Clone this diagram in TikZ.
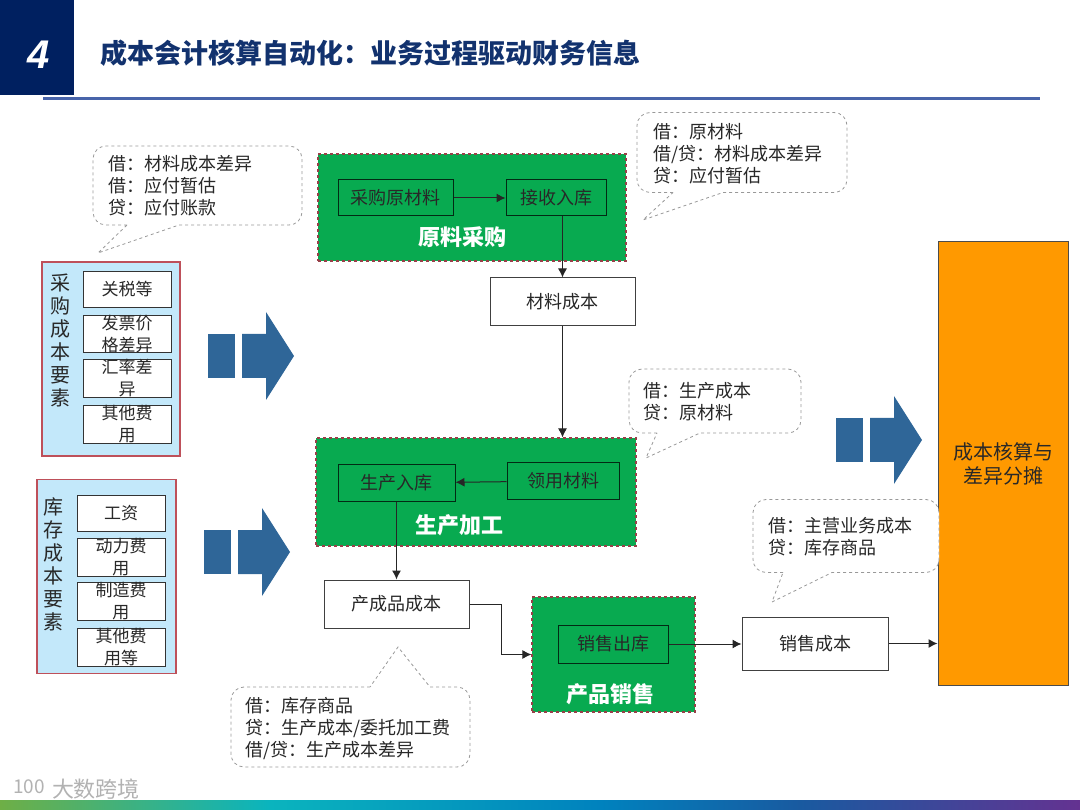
\documentclass[tikz,border=0pt]{standalone}
\usepackage{fontspec}
\setmainfont{Noto Sans CJK SC}
\newfontfamily\numfont[ItalicFeatures={FakeSlant=0.12}]{Liberation Sans}
\usepackage{tikz}
\usetikzlibrary{arrows.meta,positioning,fit,calc}

\definecolor{navy}{RGB}{0,32,96}
\definecolor{titleblue}{RGB}{18,50,110}
\definecolor{rulecol}{RGB}{72,100,170}
\definecolor{stagegreen}{RGB}{8,170,80}
\definecolor{panelblue}{RGB}{195,232,250}
\definecolor{panelred}{RGB}{190,80,90}
\definecolor{bigblue}{RGB}{47,102,152}
\definecolor{sumorange}{RGB}{255,153,0}
\definecolor{inktext}{RGB}{40,40,40}
\definecolor{barone}{RGB}{110,175,70}
\definecolor{bartwo}{RGB}{10,180,190}
\definecolor{barthree}{RGB}{0,130,190}
\definecolor{barfour}{RGB}{25,90,160}
\definecolor{barfive}{RGB}{100,50,145}

\begin{document}
\begin{tikzpicture}[
        x=1pt, y=-1pt,
        every node/.style={text=inktext},
        costbox/.style={draw=black!75, fill=white, line width=1pt, align=center,
          font=\fontsize{18}{21}\selectfont, inner sep=0pt, minimum width=145pt, minimum height=48pt},
        stagebox/.style={draw=panelred!80!black, fill=stagegreen, dashed, line width=1.2pt, inner sep=0pt},
        stepbox/.style={draw=black!75!stagegreen, line width=1pt, align=center,
          font=\fontsize{18}{21}\selectfont, inner sep=0pt, minimum height=36pt},
        stagename/.style={text=white, font=\fontsize{22}{24}\selectfont\bfseries},
        panelbox/.style={draw=panelred, fill=panelblue, line width=1.3pt, inner sep=0pt,
          minimum width=138pt, minimum height=194pt},
        panelname/.style={align=center, font=\fontsize{20}{23}\selectfont},
        itembox/.style={draw=black!80, fill=white, line width=1pt, align=center, inner sep=0pt,
          font=\fontsize{17}{22}\selectfont, minimum width=88pt, minimum height=36pt},
        notebody/.style={draw=black!40, dashed, line width=.8pt, fill=white},
        notetext/.style={anchor=west, align=left, inner sep=0pt, font=\fontsize{18}{22}\selectfont},
        bigarrow/.style={fill=bigblue},
        arr/.style={-{Latex[length=9pt,width=9pt]}, line width=1pt, draw=black!85}
      ]
        \useasboundingbox (0,0) rectangle (1080,810);

        % header
        \fill[navy] (0,0) rectangle (74,95);
        \node[text=white, font=\numfont\fontsize{40}{40}\selectfont\bfseries\itshape] (num) at (39,55) {4};
        \node[anchor=west, inner sep=0pt, text=titleblue, font=\fontsize{27}{30}\selectfont\bfseries] (title) at (100,53)
          {成本会计核算自动化：业务过程驱动财务信息};
        \fill[rulecol] (43,97) rectangle (1040,100);

        % footer
        \shade[left color=barone, right color=bartwo] (0,800) rectangle (270,810);
        \shade[left color=bartwo, right color=barthree] (270,800) rectangle (600,810);
        \shade[left color=barthree, right color=barfour] (600,800) rectangle (800,810);
        \shade[left color=barfour, right color=barfive] (800,800) rectangle (1080,810);
        \node[text=black!30, font=\fontsize{22}{24}\selectfont] (mark) at (96,789) {大数跨境};
        \node[text=black!30, font=\fontsize{19}{20}\selectfont] (logo) at (29,787) {100};

        % left panels
        \node[panelbox] (buy) at (111,359) {};
        \node[panelname] (buyname) at (60,340.5) {采\\购\\成\\本\\要\\素};
        \node[itembox] (tax) at (127,289.5) {关税等};
        \node[itembox] (price) at (127,334) {发票价\\格差异};
        \node[itembox] (rate) at (127,378.5) {汇率差\\异};
        \node[itembox] (other) at (127,424.5) {其他费\\用};

        \node[panelbox, minimum width=139pt] (stock) at (106.5,576.5) {};
        \node[panelname] (stockname) at (53,564.5) {库\\存\\成\\本\\要\\素};
        \node[itembox] (wage) at (121,513) {工资};
        \node[itembox] (power) at (121,557.5) {动力费\\用};
        \node[itembox] (make) at (121,601.5) {制造费\\用};
        \node[itembox] (rest) at (121,647.5) {其他费\\用等};

        % big arrows
        \foreach \ax/\ay in {208/356, 204/552, 836/440} {
          \begin{scope}[shift={(\ax,\ay)}]
            \fill[bigarrow] (0,-22) rectangle (27,22);
            \fill[bigarrow] (34,-22) -- (58,-22) -- (58,-44) -- (86,0) -- (58,44) -- (58,22) -- (34,22) -- cycle;
          \end{scope}
        }

        % stages
        \node[stagebox, minimum width=308pt, minimum height=107pt] (purchase) at (472,207.5) {};
        \node[stepbox, minimum width=115pt] (rawbuy) at (395.5,198) {采购原材料};
        \node[stepbox, minimum width=100pt] (receive) at (556,198) {接收入库};
        \node[stagename] (purchasename) at (462,237) {原料采购};

        \node[stagebox, minimum width=320pt, minimum height=108pt] (making) at (476,492) {};
        \node[stepbox, minimum width=117pt] (finish) at (396.5,483) {生产入库};
        \node[stepbox, minimum width=112pt] (draw) at (563,481) {领用材料};
        \node[stagename] (makingname) at (459,525) {生产加工};

        \node[stagebox, minimum width=163pt, minimum height=115pt] (selling) at (613.5,654.5) {};
        \node[stepbox, minimum width=110pt, minimum height=38pt] (sale) at (613,644) {销售出库};
        \node[stagename] (sellingname) at (610,694) {产品销售};

        % cost boxes
        \node[costbox] (matcost) at (562.5,302) {材料成本};
        \node[costbox] (prodcost) at (396.5,604) {产成品成本};
        \node[costbox, minimum width=146pt, minimum height=53pt] (salecost) at (815,643.5) {销售成本};
        \node[draw=black!70, fill=sumorange, line width=1pt, align=center, inner sep=0pt,
          minimum width=130pt, minimum height=443pt, font=\fontsize{20}{24}\selectfont] (sum) at (1003,463.5)
          {成本核算与\\差异分摊};

        % flow
        \draw[arr] (rawbuy) -- (receive);
        \draw[arr] (matcost.north |- receive.south) -- (matcost.north);
        \draw[arr] (matcost.south) -- (matcost.south |- making.north);
        \draw[arr] (draw) -- (finish);
        \draw[arr] (prodcost.north |- finish.south) -- (prodcost.north);
        \draw[arr] (prodcost.east) -- (501,604) |- (selling.west);
        \draw[arr] (sale.east) -- (salecost.west |- sale.east);
        \draw[arr] (salecost.east) -- (sum.west |- salecost.east);

        % notes
        \draw[notebody] (127,225) [rounded corners=13pt] -- (93,225) -- (93,146) -- (302,146) -- (302,225) [sharp corners] -- (179,225) -- (98,253) -- cycle;
        \node[notetext] (note1) at (108,185.5) {借：材料成本差异\\借：应付暂估\\贷：应付账款};

        \draw[notebody] (673,192.5) [rounded corners=13pt] -- (637,192.5) -- (637,112.5) -- (847,112.5) -- (847,192.5) [sharp corners] -- (723,192.5) -- (643,220) -- cycle;
        \node[notetext] (note2) at (653,153.5) {借：原材料\\借/贷：材料成本差异\\贷：应付暂估};

        \draw[notebody] (657,433) [rounded corners=13pt] -- (629,433) -- (629,369) -- (801,369) -- (801,433) [sharp corners] -- (700,433) -- (646,458) -- cycle;
        \node[notetext] (note3) at (643,401.5) {借：生产成本\\贷：原材料};

        \draw[notebody] (783,572.5) [rounded corners=13pt] -- (753,572.5) -- (753,499.5) -- (939,499.5) -- (939,572.5) [sharp corners] -- (832,572.5) -- (772,602) -- cycle;
        \node[notetext] (note4) at (768,536.5) {借：主营业务成本\\贷：库存商品};

        \draw[notebody] (370,687) [rounded corners=13pt] -- (231,687) -- (231,767) -- (470,767) -- (470,687) [sharp corners] -- (430,687) -- (398,647) -- cycle;
        \node[notetext] (note5) at (245,728.5) {借：库存商品\\贷：生产成本/委托加工费\\借/贷：生产成本差异};
      \end{tikzpicture}
\end{document}
